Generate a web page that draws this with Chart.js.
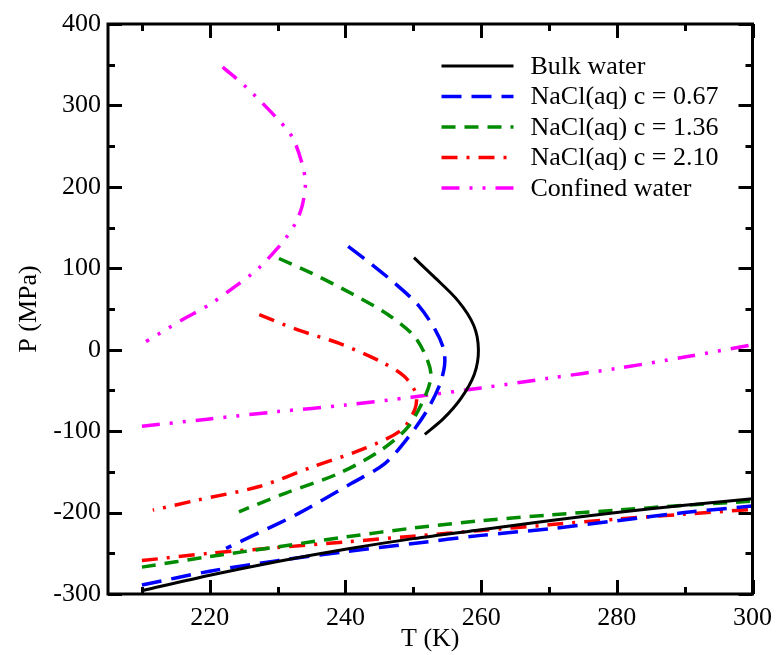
<!DOCTYPE html>
<html>
<head>
<meta charset="utf-8">
<script src="https://cdn.jsdelivr.net/npm/chart.js@4.4.1/dist/chart.umd.min.js"></script>
<style>
  html, body { margin: 0; padding: 0; background: #fff; }
</style>
</head>
<body>
<canvas id="phase" width="781" height="655"></canvas>
<script>
// ticks
const xMajor = [220, 240, 260, 280, 300];
const xMinor = [210, 230, 250, 270, 290];
const yMajor = [-300, -200, -100, 0, 100, 200, 300, 400];
const yMinor = [-250, -150, -50, 50, 150, 250, 350];

// lower branches share one temperature grid
const lowT = [210, 220, 230, 240, 250, 260, 270, 280, 290, 300];

// Bulk water
const bulkNoseT = [250.1, 253.0, 256.6, 258.9, 259.6, 259.0, 257.0, 254.4, 251.7];
const bulkNoseP = [113, 90, 60, 30, 0, -30, -60, -85, -104];
const bulkLowP = [-296, -277, -260, -245, -232, -221, -210, -200, -191, -183];

// NaCl(aq) c = 0.67
const c067NoseT = [240.4, 244.0, 247.5, 250.7, 253.2, 254.5, 254.6, 253.8, 252.0, 249.5, 245.8, 240.9, 233.1, 227.2, 222.4];
const c067NoseP = [127, 104, 80, 55, 25, 0, -20, -45, -75, -105, -140, -164, -201, -225, -244];
const c067LowP = [-289, -272, -259, -248, -238, -228, -220, -210, -200, -192];

// NaCl(aq) c = 1.36
const c136NoseT = [230.2, 235.0, 240.9, 246.3, 250.2, 252.1, 252.6, 251.7, 249.2, 245.3, 239.0, 231.2, 224.3];
const c136NoseP = [112, 94, 69, 43, 16, -13, -33, -58, -95, -123, -152, -176, -199];
const c136LowP = [-267, -254, -242, -230, -219, -210, -203, -197, -191, -186];

// NaCl(aq) c = 2.10
const c210NoseT = [227.3, 233.1, 239.0, 245.3, 248.7, 250.4, 250.2, 248.2, 242.9, 235.1, 227.3, 218.0, 211.6];
const c210NoseP = [43, 24, 8, -15, -33, -54, -74, -99, -121, -144, -168, -185, -197];
const c210LowP = [-259, -250, -243, -236, -229, -222, -215, -208, -202, -196];

// Confined water
const confNoseT = [221.9, 225.3, 229.7, 232.1, 233.6, 234.1, 233.6, 232.6, 231.2, 229.7, 227.2, 223.3, 219.9, 216.0, 210.6];
const confNoseP = [347, 323, 286, 262, 229, 204, 176, 155, 137, 122, 100, 75, 55, 37, 10];
const confLowP = [-94, -85, -76, -68, -58, -47, -35, -23, -9, 6];

const labels = ['Bulk water', 'NaCl(aq) c = 0.67', 'NaCl(aq) c = 1.36', 'NaCl(aq) c = 2.10', 'Confined water'];
const colors = ['#000000', '#0000ff', 'rgb(0,139,0)', '#ff0000', '#ff00ff'];
const dashes = [[], [20, 10], [14, 9], [16, 9, 3, 9], [18, 10, 3, 10, 3, 10]];

function branch(T, P) {
  return T.map((t, i) => ({ x: t, y: P[i] }));
}
function curve(noseT, noseP, lowP) {
  // null point breaks the line between the two branches
  return branch(noseT, noseP).concat([{ x: null, y: null }], branch(lowT, lowP));
}

const series = [
  curve(bulkNoseT, bulkNoseP, bulkLowP),
  curve(c067NoseT, c067NoseP, c067LowP),
  curve(c136NoseT, c136NoseP, c136LowP),
  curve(c210NoseT, c210NoseP, c210LowP),
  curve(confNoseT, confNoseP, confLowP)
];

const FONT = 'Liberation Serif';

// frame, inward ticks on all four sides and the legend
const framePlugin = {
  id: 'frame',
  afterDatasetsDraw(chart) {
    const { ctx, chartArea: a, scales } = chart;
    const x = scales.x, y = scales.y;
    ctx.save();
    ctx.setLineDash([]);
    ctx.strokeStyle = '#000';
    ctx.lineWidth = 3;
    ctx.lineCap = 'butt';
    ctx.beginPath();
    const xt = (vals, len) => vals.forEach(v => {
      const px = Math.round(x.getPixelForValue(v)) + 0.5;
      ctx.moveTo(px, a.bottom); ctx.lineTo(px, a.bottom - len);
      ctx.moveTo(px, a.top); ctx.lineTo(px, a.top + len);
    });
    const yt = (vals, len) => vals.forEach(v => {
      const py = Math.round(y.getPixelForValue(v)) + 0.5;
      ctx.moveTo(a.left, py); ctx.lineTo(a.left + len, py);
      ctx.moveTo(a.right, py); ctx.lineTo(a.right - len, py);
    });
    xt(xMajor, 14); xt(xMinor, 7);
    yt(yMajor, 14); yt(yMinor, 7);
    ctx.stroke();
    ctx.strokeRect(a.left, a.top, a.right - a.left, a.bottom - a.top);

    // legend
    const lx = a.right - 311;
    ctx.font = '26px "' + FONT + '"';
    ctx.textBaseline = 'middle';
    ctx.fillStyle = '#000';
    chart.data.datasets.forEach((ds, i) => {
      const ly = a.top + 42 + i * 30.5;
      ctx.beginPath();
      ctx.strokeStyle = ds.borderColor;
      ctx.lineWidth = ds.borderWidth;
      ctx.setLineDash(ds.borderDash);
      ctx.moveTo(lx, ly); ctx.lineTo(lx + 72, ly);
      ctx.stroke();
      ctx.fillText(ds.label, lx + 89, ly + 1);
    });
    ctx.restore();
  }
};

new Chart(document.getElementById('phase'), {
  type: 'scatter',
  data: {
    datasets: series.map((d, i) => ({
      label: labels[i],
      data: d,
      showLine: true,
      spanGaps: false,
      borderColor: colors[i],
      borderWidth: i === 0 ? 3 : 3.5,
      borderDash: dashes[i],
      pointRadius: 0,
      tension: 0.3,
      fill: false
    }))
  },
  options: {
    responsive: false,
    animation: false,
    layout: { padding: { top: 24, right: 24, left: 14, bottom: 0 } },
    plugins: {
      legend: { display: false },
      tooltip: { enabled: false }
    },
    scales: {
      x: {
        type: 'linear',
        min: 205,
        max: 300,
        afterBuildTicks: s => { s.ticks = xMajor.map(v => ({ value: v })); },
        afterFit: s => { s.height = 61; },
        grid: { display: false, drawTicks: false },
        border: { display: false },
        ticks: { color: '#000', padding: 9, maxRotation: 0, font: { family: FONT, size: 26 } },
        title: { display: true, text: 'T (K)', color: '#000', padding: 0, font: { family: FONT, size: 26 } }
      },
      y: {
        type: 'linear',
        min: -300,
        max: 400,
        afterBuildTicks: s => { s.ticks = yMajor.map(v => ({ value: v })); },
        afterFit: s => { s.width = 94; },
        grid: { display: false, drawTicks: false },
        border: { display: false },
        ticks: { color: '#000', padding: 7, font: { family: FONT, size: 26 } },
        title: { display: true, text: 'P (MPa)', color: '#000', padding: 0, font: { family: FONT, size: 26 } }
      }
    }
  },
  plugins: [framePlugin]
});
</script>
</body>
</html>
